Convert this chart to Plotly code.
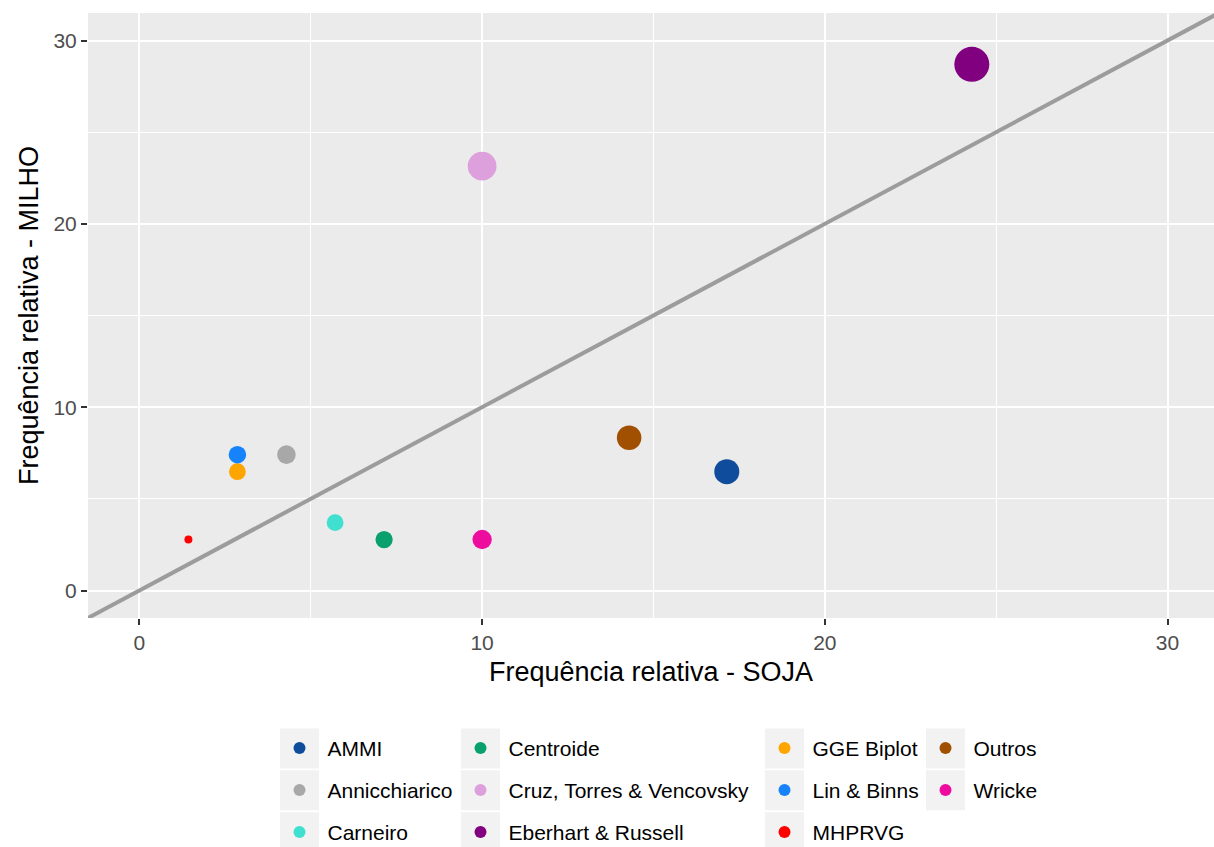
import plotly.graph_objects as go
import numpy as np

# ---- data ----
metodos = ["AMMI", "Annicchiarico", "Carneiro", "Centroide",
           "Cruz, Torres & Vencovsky", "Eberhart & Russell", "GGE Biplot",
           "Lin & Binns", "MHPRVG", "Outros", "Wricke"]
soja = [17.14, 4.29, 5.71, 7.14, 10.0, 24.29, 2.86, 2.86, 1.43, 14.29, 10.0]
milho = [6.48, 7.41, 3.70, 2.78, 23.15, 28.70, 6.48, 7.41, 2.78, 8.33, 2.78]
cores = ["#104C9C", "#A8A8A8", "#40E0D0", "#0AA06E", "#DDA0DD", "#800080",
         "#FFA500", "#1683FB", "#FF0000", "#A05000", "#EE0C9E"]
x_ticks = [0, 10, 20, 30]
y_ticks = [0, 10, 20, 30]

# ---- layout constants (body margin removed in the page) ----
OFF = 0
W, H = 1214, 900
ML, MR, MT = 88, 0, 13
PANEL_BOTTOM_SCREEN = 618.5
MB = H - (PANEL_BOTTOM_SCREEN - OFF)
PW, PH = W - ML - MR, H - MT - MB

lim = [0, 30]
pad = 0.05 * (lim[1] - lim[0])
yr = [lim[0] - pad, lim[1] + pad]
xr = [lim[0] - pad, lim[0] - pad + PW / 34.27]

# size scale (area-proportional, like ggplot scale_size)
tot = np.array(soja) + np.array(milho)
r01 = (tot - tot.min()) / (tot.max() - tot.min())
sizes = 8 + (35 - 8) * np.sqrt(r01)

fig = go.Figure()

# identity line y = x
fig.add_trace(go.Scatter(x=[lim[0] - pad, lim[1] + pad], y=[lim[0] - pad, lim[1] + pad],
                         mode="lines", line=dict(color="#9C9C9C", width=4),
                         showlegend=False, hoverinfo="skip"))

def px2paper_x(px):
    return (px - OFF - ML) / PW

def px2paper_y(py):
    return (H - MB - (py - OFF)) / PH

col_key_left = [280, 461, 765, 926]
row_key_top = [729, 771, 813]
key_w, key_h = 39, 40

legends = {}
shapes = []
for i, (m, sx, my, c, s) in enumerate(zip(metodos, soja, milho, cores, sizes)):
    col, row = i // 3, i % 3
    lname = "legend" if i == 0 else f"legend{i+1}"
    fig.add_trace(go.Scatter(x=[sx], y=[my], mode="markers", name=m,
                             marker=dict(color=c, size=float(s), line=dict(width=0)),
                             legend=lname))
    kx, ky = col_key_left[col], row_key_top[row]
    shapes.append(dict(type="rect", xref="paper", yref="paper",
                       x0=px2paper_x(kx), x1=px2paper_x(kx + key_w),
                       y0=px2paper_y(ky + key_h), y1=px2paper_y(ky),
                       fillcolor="#F2F2F2", line=dict(width=0), layer="below"))
    legends[lname] = dict(x=px2paper_x(kx + key_w / 2 - 28), y=px2paper_y(ky + key_h / 2),
                          xanchor="left", yanchor="middle",
                          bgcolor="rgba(0,0,0,0)", borderwidth=0,
                          itemsizing="constant", itemwidth=46,
                          font=dict(family="Liberation Sans, Arial", size=21, color="#000000"))

fig.update_layout(
    width=W, height=H,
    margin=dict(l=ML, r=MR, t=MT, b=MB),
    paper_bgcolor="white",
    plot_bgcolor="#EBEBEB",
    font=dict(family="Liberation Sans, Arial", color="#000000"),
    shapes=shapes,
    showlegend=True,
    **legends,
)

axis_common = dict(
    showgrid=True, gridcolor="white", gridwidth=2.2,
    zeroline=False, showline=False,
    ticks="outside", ticklen=6, tickwidth=2, tickcolor="#333333",
    tickfont=dict(family="Liberation Sans, Arial", size=21, color="#4D4D4D"),
    automargin=False,
)

fig.update_xaxes(range=xr, tickvals=x_ticks, ticktext=[str(v) for v in x_ticks],
                 title=dict(text="Frequência relativa - SOJA", standoff=8,
                            font=dict(size=27, color="#000000")),
                 **axis_common)
fig.update_yaxes(range=yr, tickvals=y_ticks, ticktext=[str(v) for v in y_ticks],
                 title=dict(text="Frequência relativa - MILHO", standoff=6,
                            font=dict(size=27, color="#000000")),
                 **axis_common)
fig.update_xaxes(minor=dict(tickvals=[5, 15, 25], ticks="", showgrid=True,
                            gridcolor="white", gridwidth=1.1))
fig.update_yaxes(minor=dict(tickvals=[5, 15, 25], ticks="", showgrid=True,
                            gridcolor="white", gridwidth=1.1))

fig.write_html(
    "out.html",
    config={"displayModeBar": False},
    post_script="document.body.style.margin='0';"
                "document.documentElement.style.overflow='hidden';"
                "document.body.style.overflow='hidden';",
)
